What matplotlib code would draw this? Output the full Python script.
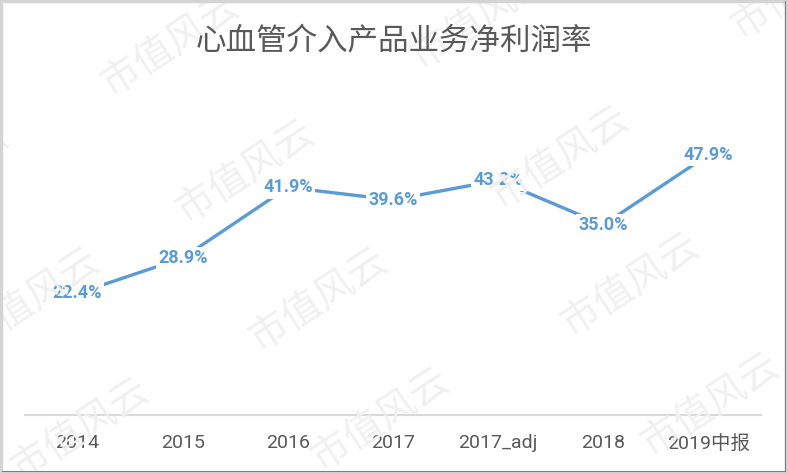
# Line chart: net profit margin of the cardiovascular intervention business.
import matplotlib
matplotlib.use('Agg')
import matplotlib.pyplot as plt
from matplotlib.patches import Rectangle
from matplotlib.lines import Line2D

# Data.
categories = ['2014', '2015', '2016', '2017', '2017_adj', '2018', '2019中报']
margin = [22.4, 28.9, 41.9, 39.6, 43.2, 35.0, 47.9]
title = '心血管介入产品业务净利润率'
watermark = '市值风云'

# Colours and fonts.
blue = '#5B9BD5'
grey_text = '#595959'
fonts = ['Roboto', 'Noto Sans CJK SC', 'DejaVu Sans']
cjk = ['Noto Sans CJK SC', 'DejaVu Sans']
plt.rcParams['font.family'] = fonts

fig = plt.figure(figsize=(7.88, 4.74), dpi=100)
fig.patch.set_facecolor('white')

# Faint diagonal watermarks (figure pixel centres).
wm_pos = [(170, 45), (480, 18), (800, -12),
          (-60, 175), (245, 172), (560, 158), (870, 140),
          (30, 300), (318, 300), (630, 285),
          (80, 430), (380, 420), (710, 405)]
for x, y in wm_pos:
    fig.text(x / 788, 1 - y / 474, watermark, family=cjk, fontsize=28,
             fontweight='light', color='#f0f0f0', rotation=33,
             ha='center', va='center', rotation_mode='anchor', zorder=0)

ax = fig.add_axes([25 / 788, 1 - 415 / 474, 736 / 788, (415 - 89) / 474])
ax.patch.set_alpha(0)

x = list(range(len(categories)))
ax.plot(x, margin, color=blue, linewidth=2.4, solid_capstyle='butt', zorder=2)

# Data labels centred on the points, white box hides the line below.
for xi, v in zip(x, margin):
    ax.text(xi, v, f'{v:.1f}%', ha='center', va='center', fontsize=13,
            fontweight='bold', color=blue, zorder=3,
            bbox=dict(facecolor='white', edgecolor='none', pad=1.5))

ax.set_xlim(-0.5, len(categories) - 0.5)
ax.set_ylim(0, 60)
ax.set_xticks(x)
ax.set_xticklabels(categories, fontsize=14, color=grey_text)
ax.tick_params(axis='x', length=0, pad=14)
ax.set_yticks([])
for side in ['left', 'right', 'top']:
    ax.spines[side].set_visible(False)
ax.spines['bottom'].set_color('#d9d9d9')
ax.spines['bottom'].set_linewidth(1.5)

fig.text(0.5, 1 - 42 / 474, title, family=cjk, fontsize=22,
         color=grey_text, ha='center', va='center')

# Outer frame of the screenshot.
fig.patches.append(Rectangle((0.001, 0.002), 0.997, 0.996,
                             transform=fig.transFigure, fill=False,
                             edgecolor='#d4d4d4', linewidth=2.5))
fig.lines.append(Line2D([0.996, 0.996], [0.006, 0.997],
                        transform=fig.transFigure, color='#7f7f7f', linewidth=0.8))
fig.lines.append(Line2D([0.003, 0.996], [0.006, 0.006],
                        transform=fig.transFigure, color='#7f7f7f', linewidth=0.8))

fig.savefig('out.png', dpi=100, facecolor='white')
